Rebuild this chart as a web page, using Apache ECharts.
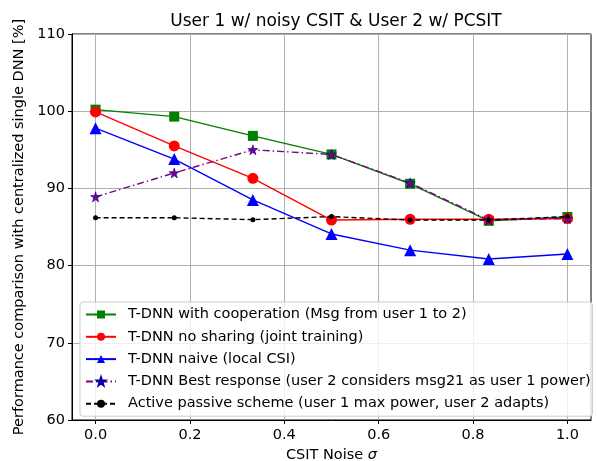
<!DOCTYPE html>
<html><head><meta charset="utf-8">
<script src="https://cdn.jsdelivr.net/npm/echarts@6/dist/echarts.min.js"></script>
<style>html,body{margin:0;padding:0;background:#fff}#c{width:597px;height:461px}</style>
</head><body><div id="c"></div>
<script>
const xValues = [0, 1/6, 2/6, 3/6, 4/6, 5/6, 1];
const xTicks = [0, 0.2, 0.4, 0.6, 0.8, 1.0];
const seriesNames = [
  'T-DNN with cooperation (Msg from user 1 to 2)',
  'T-DNN no sharing (joint training)',
  'T-DNN naive (local CSI)',
  'T-DNN Best response (user 2 considers msg21 as user 1 power)',
  'Active passive scheme (user 1 max power, user 2 adapts)'
];
const coop = [100.2, 99.3, 96.8, 94.4, 90.6, 85.8, 86.3];
const noSharing = [99.9, 95.5, 91.3, 85.9, 86.0, 86.0, 86.1];
const naive = [97.8, 93.8, 88.5, 84.1, 82.0, 80.85, 81.5];
const bestResp = [88.9, 92.0, 95.0, 94.4, 90.7, 85.9, 86.1];
const activePassive = [86.2, 86.2, 85.95, 86.35, 85.9, 85.9, 86.35];

const F = 'DejaVu Sans';
const FS = 14.5;
const pair = arr => xValues.map((x, i) => [x, arr[i]]);
const starPath = 'path://M50,0 L61.8,35.4 L100,35.4 L69.1,57.3 L80.9,95.1 L50,73.2 L19.1,95.1 L30.9,57.3 L0,35.4 L38.2,35.4 Z';

const chart = echarts.init(document.getElementById('c'), null, {renderer: 'canvas'});
chart.setOption({
  animation: false,
  backgroundColor: '#fff',
  title: {
    text: 'User 1 w/ noisy CSIT & User 2 w/ PCSIT',
    left: 331, top: 8, textAlign: 'center',
    textStyle: {fontFamily: F, fontSize: 17, fontWeight: 'normal', color: '#000'}
  },
  grid: {left: 72, right: 6, top: 34, bottom: 41, show: true, borderColor: '#000', borderWidth: 1,
         backgroundColor: 'transparent', containLabel: false, outerBoundsMode: 'none'},
  legend: {
    left: 80, top: 302, orient: 'vertical',
    itemWidth: 30, itemHeight: 10, itemGap: 7.3,
    backgroundColor: 'rgba(255,255,255,0.8)', borderColor: '#ccc', borderWidth: 1, borderRadius: 3,
    padding: [5, 2, 5, 5],
    textStyle: {fontFamily: F, fontSize: FS, lineHeight: 14, color: '#000', padding: [0, 0, 0, 7]},
    data: seriesNames
  },
  xAxis: {
    type: 'value', min: -0.05, max: 1.05,
    name: 'CSIT Noise {i|σ}', nameLocation: 'middle', nameGap: 27,
    nameTextStyle: {fontFamily: F, fontSize: FS, color: '#000', rich: {i: {fontFamily: F, fontSize: FS, fontStyle: 'italic', color: '#000'}}},
    axisLine: {show: true, onZero: false, lineStyle: {color: '#000'}},
    axisTick: {show: true, length: 4, lineStyle: {color: '#000'}, customValues: xTicks},
    axisLabel: {fontFamily: F, fontSize: FS, color: '#000', margin: 8, customValues: xTicks, formatter: v => v.toFixed(1)},
    splitLine: {show: true, lineStyle: {color: '#b0b0b0', width: 1}}
  },
  yAxis: {
    type: 'value', min: 60, max: 110, interval: 10,
    name: 'Performance comparison with centralized single DNN [%]', nameLocation: 'middle', nameGap: 45,
    nameTextStyle: {fontFamily: F, fontSize: FS, color: '#000'},
    axisLine: {show: true, onZero: false, lineStyle: {color: '#000'}},
    axisTick: {show: true, length: 4, lineStyle: {color: '#000'}},
    axisLabel: {fontFamily: F, fontSize: FS, color: '#000', margin: 7},
    splitLine: {show: true, lineStyle: {color: '#b0b0b0', width: 1}}
  },
  series: [
    {name: seriesNames[0], type: 'line', data: pair(coop), color: '#008000', symbol: 'rect', symbolSize: 10,
     lineStyle: {width: 1.4}, z: 3},
    {name: seriesNames[1], type: 'line', data: pair(noSharing), color: '#ff0000', symbol: 'circle', symbolSize: 11,
     lineStyle: {width: 1.4}, z: 4},
    {name: seriesNames[2], type: 'line', data: pair(naive), color: '#0000ff', symbol: 'triangle', symbolSize: 12,
     lineStyle: {width: 1.4}, z: 3},
    {name: seriesNames[3], type: 'line', data: pair(bestResp), color: '#800080', symbol: starPath, symbolSize: 10,
     itemStyle: {color: '#800080', borderColor: '#0000aa', borderWidth: 0.6},
     lineStyle: {width: 1.4, type: [7, 3, 1.5, 3]}, z: 5},
    {name: seriesNames[4], type: 'line', data: pair(activePassive), color: '#000000', symbol: 'circle', symbolSize: 5,
     lineStyle: {width: 1.4, type: [5, 3]}, z: 6}
  ]
});
</script></body></html>
